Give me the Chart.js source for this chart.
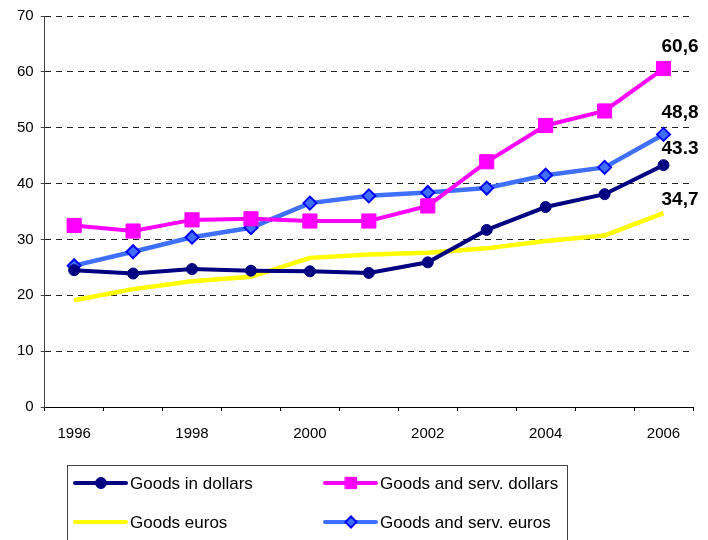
<!DOCTYPE html>
<html>
<head>
<meta charset="utf-8">
<script src="https://cdn.jsdelivr.net/npm/chart.js@4.4.1/dist/chart.umd.min.js"></script>
<style>
html, body { margin: 0; padding: 0; background: #fff; }
#wrap { width: 708px; height: 540px; }
</style>
</head>
<body>
<div id="wrap"><canvas id="grafico" width="708" height="540"></canvas></div>
<script>
// dados
var anos = ['1996', '1997', '1998', '1999', '2000', '2001', '2002', '2003', '2004', '2005', '2006'];
var bensDolares = [24.5, 23.9, 24.7, 24.4, 24.3, 24.0, 25.9, 31.7, 35.8, 38.1, 43.3];
var bensServDolares = [32.5, 31.5, 33.5, 33.7, 33.3, 33.3, 36.0, 43.9, 50.4, 53.0, 60.6];
var bensEuros = [19.1, 21.1, 22.5, 23.3, 26.7, 27.3, 27.6, 28.4, 29.7, 30.7, 34.7];
var bensServEuros = [25.3, 27.8, 30.4, 32.1, 36.5, 37.8, 38.4, 39.2, 41.5, 42.9, 48.8];
var nomesSeries = ['Goods in dollars', 'Goods and serv. dollars', 'Goods euros', 'Goods and serv. euros'];
var rotulosFinais = ['43.3', '60,6', '34,7', '48,8'];
var ticksY = [0, 10, 20, 30, 40, 50, 60, 70];

var fonte = 'Arial, "Liberation Sans", sans-serif';

// rotulo no ultimo ponto de cada linha
var rotulosPlugin = {
    id: 'rotulos',
    afterDatasetsDraw: function (chart) {
        var ctx = chart.ctx;
        var dy = [-16, -22, -13, -22];
        ctx.save();
        ctx.font = 'bold 19px ' + fonte;
        ctx.fillStyle = '#000';
        ctx.textAlign = 'left';
        ctx.textBaseline = 'middle';
        chart.data.datasets.forEach(function (ds, i) {
            var meta = chart.getDatasetMeta(i);
            var p = meta.data[meta.data.length - 1];
            ctx.fillText(rotulosFinais[i], p.x - 2, p.y + dy[i]);
        });
        ctx.restore();
    }
};

// legenda com caixa, em duas colunas
var legendaPlugin = {
    id: 'legendaCaixa',
    afterDraw: function (chart) {
        var ctx = chart.ctx;
        ctx.save();
        ctx.strokeStyle = '#444';
        ctx.lineWidth = 1;
        ctx.strokeRect(67.5, 465.5, 500, 90);
        var pos = [[75, 483], [325, 483], [75, 522], [325, 522]];
        chart.data.datasets.forEach(function (ds, i) {
            var x = pos[i][0], y = pos[i][1];
            ctx.strokeStyle = ds.borderColor;
            ctx.lineWidth = 4;
            ctx.lineCap = 'round';
            ctx.beginPath();
            ctx.moveTo(x, y);
            ctx.lineTo(x + 51, y);
            ctx.stroke();
            if (ds.pointRadius > 0) {
                ctx.fillStyle = ds.pointBackgroundColor;
                ctx.strokeStyle = ds.pointBorderColor;
                ctx.lineWidth = ds.pointBorderWidth;
                Chart.helpers.drawPoint(ctx, {
                    pointStyle: ds.pointStyle,
                    radius: ds.pointStyle === 'rect' ? 8 : 5.5,
                    rotation: 0,
                    borderWidth: ds.pointBorderWidth
                }, x + 26, y);
            }
            ctx.fillStyle = '#000';
            ctx.font = '17px ' + fonte;
            ctx.textAlign = 'left';
            ctx.textBaseline = 'middle';
            ctx.fillText(nomesSeries[i], x + 55, y + 1);
        });
        ctx.restore();
    }
};

var ctxx = document.getElementById('grafico');
var grafico = new Chart(ctxx, {
    type: 'line',
    data: {
        labels: anos,
        datasets: [
            {
                label: nomesSeries[0],
                data: bensDolares,
                borderColor: '#000080',
                borderWidth: 4,
                pointStyle: 'circle',
                pointRadius: 5.5,
                pointBackgroundColor: '#000080',
                pointBorderColor: '#000080',
                pointBorderWidth: 1
            },
            {
                label: nomesSeries[1],
                data: bensServDolares,
                borderColor: '#ff00ff',
                borderWidth: 4,
                pointStyle: 'rect',
                pointRadius: 10,
                pointBackgroundColor: '#ff00ff',
                pointBorderColor: '#ff00ff',
                pointBorderWidth: 1
            },
            {
                label: nomesSeries[2],
                data: bensEuros,
                borderColor: '#ffff00',
                borderWidth: 4.5,
                pointRadius: 0,
                pointBackgroundColor: '#ffff00',
                pointBorderColor: '#ffff00',
                pointBorderWidth: 0
            },
            {
                label: nomesSeries[3],
                data: bensServEuros,
                borderColor: '#3f6fff',
                borderWidth: 4.5,
                pointStyle: 'rectRot',
                pointRadius: 6.5,
                pointBackgroundColor: '#3f6fff',
                pointBorderColor: '#0000ff',
                pointBorderWidth: 2
            }
        ]
    },
    options: {
        responsive: false,
        animation: false,
        devicePixelRatio: 1,
        layout: {
            padding: { left: 10, right: 15, top: 14, bottom: 83 }
        },
        elements: {
            line: { tension: 0 }
        },
        plugins: {
            legend: { display: false },
            tooltip: { enabled: false }
        },
        scales: {
            x: {
                offset: true,
                grid: {
                    offset: true,
                    drawOnChartArea: false,
                    drawTicks: true,
                    tickLength: 4,
                    color: '#000'
                },
                border: { display: true, color: '#000', width: 1 },
                ticks: {
                    autoSkip: false,
                    maxRotation: 0,
                    padding: 14,
                    color: '#000',
                    font: { family: fonte, size: 15 },
                    callback: function (v, i) {
                        return i % 2 === 0 ? anos[i] : '';
                    }
                }
            },
            y: {
                min: ticksY[0],
                max: ticksY[ticksY.length - 1],
                afterBuildTicks: function (axis) {
                    axis.ticks = ticksY.map(function (v) { return { value: v }; });
                },
                grid: {
                    color: '#222',
                    lineWidth: 1,
                    drawTicks: true,
                    tickLength: 4,
                    tickColor: '#444'
                },
                border: { display: true, color: '#444', width: 1, dash: [6, 5] },
                ticks: {
                    padding: 7,
                    color: '#000',
                    font: { family: fonte, size: 15 }
                }
            }
        }
    },
    plugins: [rotulosPlugin, legendaPlugin]
});
</script>
</body>
</html>
